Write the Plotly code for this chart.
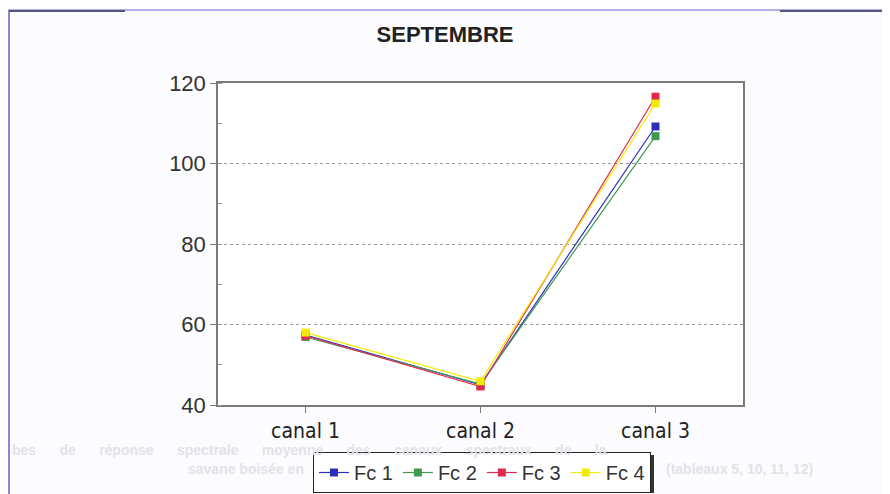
import plotly.graph_objects as go

# data
canaux = ["canal 1", "canal 2", "canal 3"]
fc1 = [57.4, 45.0, 109.2]
fc2 = [56.9, 45.2, 106.8]
fc3 = [57.2, 44.6, 116.6]
fc4 = [58.0, 45.9, 114.9]

series = [
    ("Fc 1", fc1, "#2b2fb8"),
    ("Fc 2", fc2, "#3f9a4f"),
    ("Fc 3", fc3, "#e0294f"),
    ("Fc 4", fc4, "#f2ec00"),
]

# faint text showing through the scanned page
ghost_line1 = "bes de réponse spectrale moyenne des canaux spectraux de la"
ghost_line2_left = "savane boisée en"
ghost_line2_right = "(tableaux 5, 10, 11, 12)"

# the page has an 8px body margin, so work in reference pixels and shift
OFF = 8
W, H = 890 - OFF, 494 - OFF
L, R, T, B = 218 - OFF, 743 - OFF, 83 - OFF, 405 - OFF


def px(x):
    return (x - OFF - L) / (R - L)


def py(y):
    return (B - (y - OFF)) / (B - T)


fig = go.Figure()
for name, vals, col in series:
    fig.add_trace(go.Scatter(
        x=canaux, y=vals, name=name, mode="lines+markers",
        line=dict(color=col, width=1.2),
        marker=dict(symbol="square", size=8, color=col),
    ))

font_main = "Liberation Sans, Arial, sans-serif"
font_narrow = "Liberation Sans Narrow, Arial Narrow, DejaVu Sans Condensed, Liberation Sans, sans-serif"
ghost = dict(family=font_main, size=14, color="#e2e2ea")

shapes = [
    # outer frame of the scanned figure
    dict(type="line", xref="paper", yref="paper", x0=px(9), x1=px(9), y0=py(10), y1=py(494),
         line=dict(color="#8a86d8", width=2)),
    dict(type="line", xref="paper", yref="paper", x0=px(8), x1=px(890), y0=py(10), y1=py(10),
         line=dict(color="#9a98dc", width=1.5)),
    dict(type="line", xref="paper", yref="paper", x0=px(9), x1=px(125), y0=py(11), y1=py(11),
         line=dict(color="#555577", width=2)),
    dict(type="line", xref="paper", yref="paper", x0=px(780), x1=px(890), y0=py(11), y1=py(11),
         line=dict(color="#555577", width=2)),
    # legend shadow
    dict(type="rect", xref="paper", yref="paper", x0=px(317), x1=px(654), y0=py(455), y1=py(493),
         fillcolor="#333333", line=dict(width=0), layer="above"),
]

# spread the first ghost line across the page like justified text
line1 = ("\u00a0" * 6).join(ghost_line1.split(" "))

fig.update_layout(
    width=W, height=H,
    margin=dict(l=L, r=W - R, t=T, b=H - B, autoexpand=False),
    paper_bgcolor="#fcfcfe",
    plot_bgcolor="#ffffff",
    title=dict(text="<b>SEPTEMBRE</b>", xref="paper", x=px(445), xanchor="center",
               yref="container", y=1 - (34 - OFF) / H, yanchor="middle",
               font=dict(family=font_main, size=22, color="#222222")),
    xaxis=dict(
        type="category", range=[-0.5, 2.5],
        showline=True, linecolor="#7a7a7a", linewidth=1.5, mirror=True,
        ticks="outside", ticklen=6, tickcolor="#7a7a7a",
        showgrid=False, zeroline=False,
        tickfont=dict(family=font_narrow, size=21, color="#222222"),
    ),
    yaxis=dict(
        range=[40, 120], dtick=20,
        showline=True, linecolor="#7a7a7a", linewidth=1.5, mirror=True,
        ticks="outside", ticklen=6, tickcolor="#7a7a7a",
        showgrid=True, gridcolor="#9a9a9a", griddash="dot", gridwidth=1,
        zeroline=False,
        minor=dict(dtick=10, ticks="inside", ticklen=4, tickcolor="#9a9a9a", showgrid=False),
        tickfont=dict(family=font_main, size=22, color="#333333"),
    ),
    legend=dict(
        orientation="h", x=px(482), xanchor="center", y=py(452), yanchor="top",
        bgcolor="#ffffff", bordercolor="#222222", borderwidth=1,
        font=dict(family=font_main, size=20, color="#333333"),
        itemwidth=30, tracegroupgap=0,
    ),
    shapes=shapes,
    annotations=[
        dict(text=f"<b>{line1}</b>", xref="paper", yref="paper",
             x=px(10), y=py(450), xanchor="left", yanchor="middle", showarrow=False, font=ghost),
        dict(text=f"<b>{ghost_line2_left}</b>", xref="paper", yref="paper",
             x=px(306), y=py(469), xanchor="right", yanchor="middle", showarrow=False, font=ghost),
        dict(text=f"<b>{ghost_line2_right}</b>", xref="paper", yref="paper",
             x=px(664), y=py(469), xanchor="left", yanchor="middle", showarrow=False, font=ghost),
    ],
)

fig.write_html("out.html")
